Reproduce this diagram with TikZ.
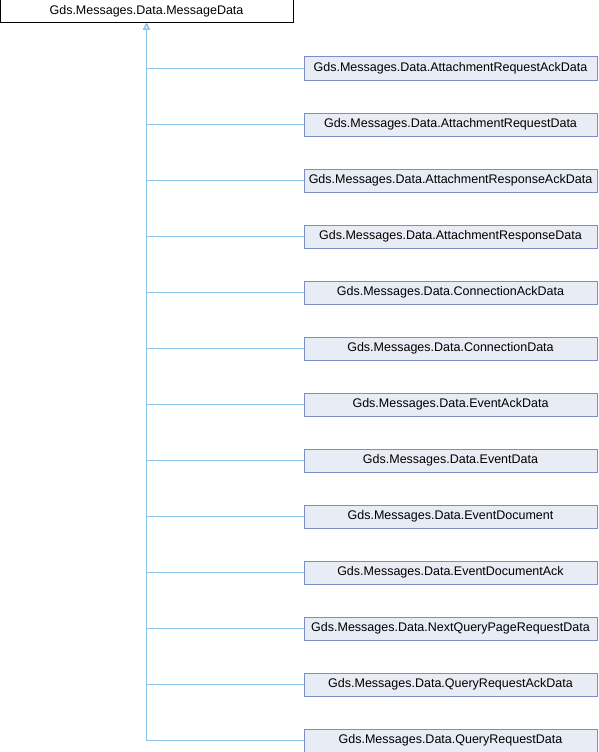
\documentclass[tikz,border=0pt]{standalone}
\usepackage{fontspec}
\setmainfont{Liberation Sans}
\usetikzlibrary{arrows.meta}
\definecolor{edgecol}{HTML}{8CC4E8}
\definecolor{boxfill}{HTML}{E8ECF5}
\definecolor{boxdraw}{HTML}{7B8FC6}
\tikzset{
  rootbox/.style={draw=black, fill=white, line width=1pt, minimum width=293pt, minimum height=23pt, inner sep=0pt, font=\fontsize{12.5}{14}\selectfont},
  childbox/.style={draw=boxdraw, fill=boxfill, line width=1pt, minimum width=293pt, minimum height=23pt, inner sep=0pt, font=\fontsize{12.5}{14}\selectfont},
  edge/.style={draw=edgecol, line width=1pt, -{Triangle[open, length=6pt, width=6pt, fill=white]}}
}
\begin{document}
\begin{tikzpicture}[x=1pt,y=-1pt]
\useasboundingbox (0,0) rectangle (598,752);
\fill[white] (0,0) rectangle (598,752);
\node[rootbox] (root) at (146.5,11.5) {Gds.Messages.Data.MessageData};
\foreach \i/\t in {0/AttachmentRequestAckData,1/AttachmentRequestData,2/AttachmentResponseAckData,3/AttachmentResponseData,4/ConnectionAckData,5/ConnectionData,6/EventAckData,7/EventData,8/EventDocument,9/EventDocumentAck,10/NextQueryPageRequestData,11/QueryRequestAckData,12/QueryRequestData}{
  \node[childbox] (c\i) at (450.5,{68.5+56*\i}) {Gds.Messages.Data.\t};
}
\foreach \i in {12,11,...,0}{
  \draw[edge] (c\i.west) -| (root.south);
}
\end{tikzpicture}
\end{document}
